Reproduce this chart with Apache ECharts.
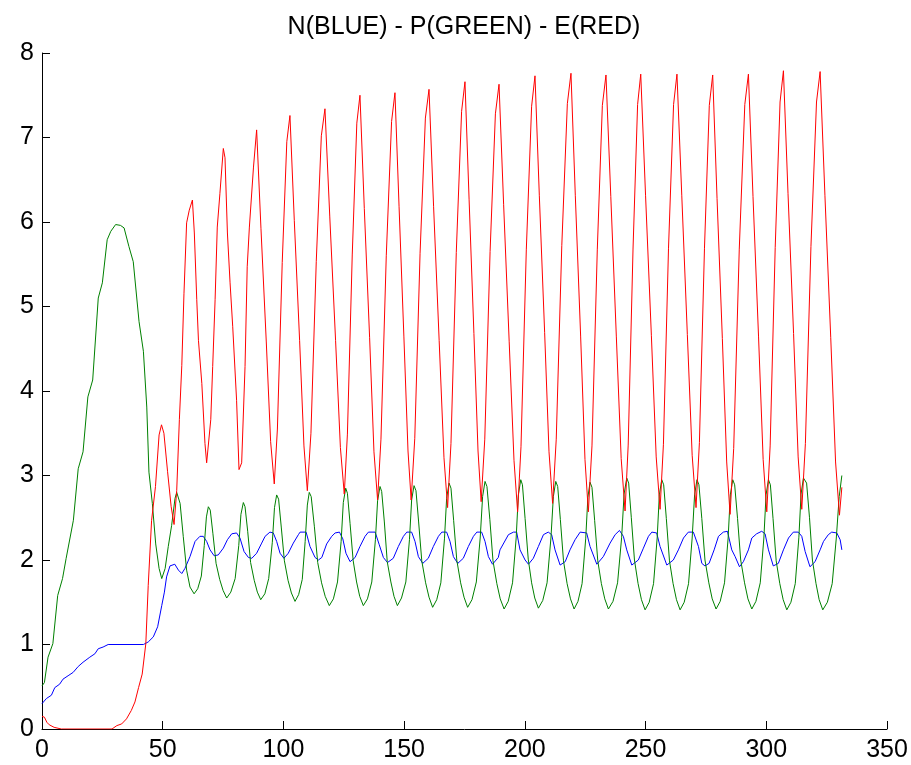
<!DOCTYPE html>
<html>
<head>
<meta charset="utf-8">
<script src="https://cdn.jsdelivr.net/npm/echarts@6/dist/echarts.min.js"></script>
<style>html,body{margin:0;padding:0;background:#fff;}#c{width:911px;height:765px;}</style>
</head>
<body>
<div id="c"></div>
<script>
const chartTitle = 'N(BLUE) - P(GREEN) - E(RED)';
const xMin = 0, xMax = 350, xStep = 50;
const yMin = 0, yMax = 8, yStep = 1;

const nBlue = [[0,0.30],[1.8,0.36],[3.9,0.40],[5.3,0.49],[7.3,0.53],[8.7,0.59],[10.8,0.63],[12.9,0.67],[15,0.74],[17,0.79],[19.8,0.85],[21.9,0.89],[23.3,0.95],[25.3,0.97],[27.4,1.0],[42,1.0],[44,1.03],[46.1,1.09],[47.9,1.21],[49.6,1.46],[50.7,1.62],[51.6,1.80],[53,1.93],[55,1.95],[56.5,1.88],[57.9,1.84],[59.2,1.90],[61.3,2.04],[63.4,2.22],[65.4,2.28],[66.8,2.28],[68.2,2.22],[69.6,2.12],[71.3,2.05],[73,2.06],[75.1,2.14],[76.8,2.24],[78.6,2.31],[80.6,2.32],[82,2.26],[83.7,2.10],[85.5,2.03],[86.9,2.02],[88.9,2.08],[91,2.20],[92.4,2.28],[94.4,2.33],[95.8,2.32],[97.2,2.22],[98.6,2.08],[100.2,2.02],[102,2.08],[104.1,2.20],[106.2,2.30],
[106.9,2.33],[109.4,2.33],[111,2.16],[113.1,2.03],[114.5,2.0],[115.9,2.03],[117.9,2.19],[120,2.28],[121.4,2.32],[123.2,2.33],[124.6,2.25],[125.9,2.08],[127.6,1.98],[129.7,2.03],[131.7,2.16],[133.8,2.28],[135.2,2.33],[138,2.33],[139.7,2.18],[141.4,2.03],[143.1,1.97],[145.5,2.02],[147.6,2.16],[149.7,2.28],[151.1,2.33],[153.1,2.33],[154.5,2.22],[155.9,2.04],[157.7,1.96],[160,2.02],[162.1,2.16],[164.2,2.28],[165.6,2.33],[167.6,2.33],[169,2.22],[170.4,2.04],[172.2,1.96],[174.5,2.02],[176.6,2.16],[178.7,2.28],[180.1,2.33],[182.1,2.33],[183.5,2.22],[184.9,2.04],[186.6,1.95],[189,2.03],
[189.7,2.12],[193.2,2.30],[195.3,2.33],[196.6,2.33],[198,2.12],[200.1,2.0],[201.5,1.95],[203.5,2.02],[205.6,2.16],[207.7,2.30],[209.7,2.33],[211.1,2.30],[212.5,2.12],[214.6,1.94],[216.7,1.98],[218.7,2.12],[220.8,2.24],[222.9,2.33],[225.6,2.32],[227,2.16],[229.8,1.95],[232.5,2.04],[235.3,2.20],[237.4,2.30],[239.2,2.35],[240.8,2.28],[242.2,2.12],[244.3,1.94],[247,2.0],[249.1,2.14],[251.2,2.28],[252.6,2.33],[254.6,2.32],[256,2.16],[258.8,1.94],[261.5,2.0],[263.6,2.12],[265.7,2.26],[267.7,2.33],
[269.8,2.33],[270.5,2.32],[271.9,2.16],[273.3,1.96],[274.6,1.93],[276.3,1.96],[278.4,2.12],[280.2,2.28],[282.2,2.33],[283.9,2.34],[285.7,2.12],[287.1,2.04],[288.9,1.92],[290.5,1.98],[292.6,2.12],[294,2.26],[296,2.31],[298.1,2.34],[299.5,2.31],[300.9,2.12],[302.9,1.93],[305,1.96],[307.1,2.12],[309.2,2.26],[311.2,2.33],[313.3,2.33],[314.7,2.28],[316.1,2.10],[318.1,1.92],[320.2,1.98],[322.3,2.12],[323.7,2.22],[325.7,2.30],[327.1,2.33],[329.2,2.32],[330.6,2.24],[331.3,2.12]];

const pGreen = [[0,0.51],[1,0.55],[2.5,0.85],[4.5,1.01],[6.5,1.58],[8.5,1.78],[10,2.02],[13,2.47],[15,3.08],[17,3.28],[19,3.93],[21,4.13],[23.3,5.10],[25,5.28],[27,5.79],[28.5,5.89],[30.5,5.97],[32.5,5.96],[34,5.93],[36,5.71],[37.8,5.53],[40.2,4.82],[42,4.47],[43.4,3.81],[44.3,3.04],[45.7,2.67],[47.1,2.19],[48.5,1.90],[49.6,1.78],
[51,1.90],[52.3,2.16],[53.7,2.41],[55.1,2.73],[55.8,2.80],
[57.2,2.67],[58.5,2.28],[59.9,1.88],[61.3,1.68],[63,1.60],
[64.5,1.66],[66,1.81],[67.2,2.17],[68.1,2.51],[68.9,2.63],
[69.7,2.59],[70.8,2.31],[72.1,1.96],[73.6,1.77],[75,1.64],[76.5,1.55],
[78.2,1.62],[80,1.78],[81.5,2.17],[82.4,2.54],[83.4,2.68],
[84.1,2.63],[85.2,2.34],[86.4,1.97],[87.9,1.76],[89.2,1.62],[90.6,1.53],
[92.3,1.60],[93.9,1.78],[95.4,2.21],[96.3,2.62],[97.2,2.77],
[98,2.72],[99.1,2.39],[100.4,1.99],[101.9,1.76],[103.3,1.61],[104.8,1.51],
[106.3,1.59],[107.8,1.77],[109,2.22],[109.9,2.65],[110.7,2.80],
[111.5,2.75],[112.8,2.40],[114.2,1.97],[115.8,1.73],[117.3,1.57],[119,1.46],
[120.7,1.54],[122.4,1.74],[123.9,2.22],[124.8,2.68],[125.8,2.85],
[126.5,2.79],[127.6,2.43],[128.9,1.99],[130.3,1.74],[131.6,1.57],[133.1,1.46],
[134.8,1.54],[136.6,1.74],[138.1,2.24],[139,2.70],[140,2.87],
[140.7,2.81],[141.8,2.45],[143,1.98],[144.5,1.74],[145.8,1.57],[147.2,1.46],
[148.9,1.55],[150.7,1.74],[152.2,2.24],[153.1,2.71],[154.1,2.88],
[154.9,2.82],[156,2.45],[157.3,1.99],[158.9,1.73],[160.3,1.56],[161.8,1.44],
[163.5,1.53],[165.2,1.73],[166.7,2.25],[167.6,2.73],[168.6,2.91],
[169.4,2.85],[170.5,2.47],[171.8,2.00],[173.4,1.73],[174.8,1.56],[176.3,1.44],
[178.1,1.53],[179.9,1.74],[181.5,2.26],[182.5,2.75],[183.5,2.93],
[184.3,2.87],[185.5,2.48],[186.8,1.99],[188.4,1.72],[189.8,1.54],[191.4,1.42],
[193.1,1.51],[194.9,1.73],[196.4,2.26],[197.3,2.77],[198.3,2.95],
[199,2.89],[200.1,2.49],[201.4,2.01],[202.8,1.73],[204.1,1.55],[205.6,1.43],
[207.4,1.52],[209.2,1.73],[210.8,2.26],[211.8,2.75],[212.8,2.93],
[213.6,2.87],[214.7,2.48],[216,1.99],[217.5,1.72],[218.9,1.54],[220.4,1.42],
[222,1.51],[223.7,1.72],[225.2,2.25],[226.1,2.74],[227,2.92],
[227.8,2.86],[228.9,2.47],[230.2,1.99],[231.7,1.72],[233.1,1.54],[234.6,1.42],
[236.5,1.51],[238.4,1.73],[240.1,2.27],[241.1,2.78],[242.2,2.97],
[243,2.91],[244.1,2.50],[245.4,2.00],[246.9,1.72],[248.3,1.53],[249.8,1.41],
[251.5,1.50],[253.3,1.72],[254.8,2.26],[255.7,2.77],[256.7,2.95],
[257.5,2.89],[258.6,2.49],[259.9,1.99],[261.4,1.72],[262.8,1.53],[264.3,1.41],
[266,1.50],[267.8,1.72],[269.3,2.26],[270.3,2.77],[271.3,2.95],
[272.1,2.89],[273.3,2.49],[274.6,2.00],[276.2,1.73],[277.6,1.54],[279.2,1.42],
[280.9,1.51],[282.7,1.73],[284.2,2.26],[285.1,2.77],[286.1,2.95],
[286.9,2.89],[288.1,2.49],[289.4,2.00],[291,1.73],[292.4,1.54],[294,1.42],
[295.7,1.51],[297.5,1.73],[299,2.26],[299.9,2.77],[300.9,2.95],
[301.7,2.89],[302.8,2.49],[304.1,1.99],[305.6,1.72],[307,1.53],[308.5,1.41],
[310.2,1.50],[312,1.72],[313.5,2.27],[314.4,2.78],[315.4,2.97],[316,2.97],
[316.7,2.91],[317.9,2.50],[319.1,2.00],[320.6,1.72],[321.9,1.53],[323.4,1.41],
[325.3,1.50],[327.3,1.72],[329,2.26],[330.2,2.75],[331.3,3.0]];

const eRed = [[0,0.15],[1,0.14],[2,0.08],[3,0.05],[5,0.02],[8,0],[29,0],[31,0.04],[33,0.06],[35,0.12],[37,0.22],[38.5,0.32],[40,0.49],[41.5,0.65],[43,1.01],[44,1.7],[45.4,2.47],[47,2.87],[48.5,3.48],[49.5,3.60],[50.5,3.50],[52,3.05],[53.5,2.63],[54.7,2.42],[55.3,2.40],
[55.8,2.82],[56.9,3.66],[57.9,4.30],[58.8,5.15],[59.9,5.99],[61,6.14],[62.3,6.26],
[63.1,5.87],[64.1,5.08],[64.8,4.60],[66.2,4.09],[67.5,3.38],[68.2,3.15],[68.9,3.15],[69.9,3.66],[70.7,4.29],[71.7,5.08],[72.6,5.94],[73.7,6.34],[75.1,6.87],[75.8,6.76],[76.8,5.87],[77.9,5.28],[79,4.76],[80.6,3.89],[81.6,3.07],[82.7,3.15],[84.1,4.29],[85,5.47],[85.9,5.94],[87.6,6.65],[88.9,7.09],
[90.7,5.92],[92.9,4.58],[94.7,3.40],[96.2,2.90],
[97.5,3.55],[99.5,5.52],[101.4,6.95],[102.7,7.26],
[104.5,6.02],[106.7,4.60],[108.5,3.35],[109.9,2.82],
[111.4,3.50],[113.6,5.53],[115.7,7.02],[117.2,7.34],
[119.2,6.06],[121.6,4.60],[123.6,3.33],[125.2,2.78],
[126.5,3.49],[128.5,5.61],[130.4,7.17],[131.7,7.50],
[133.5,6.16],[135.7,4.63],[137.5,3.28],[139,2.71],
[140.4,3.43],[142.6,5.60],[144.8,7.19],[146.2,7.53],
[147.9,6.18],[149.9,4.64],[151.6,3.29],[152.9,2.71],
[154.4,3.44],[156.6,5.63],[158.8,7.23],[160.3,7.57],
[162.2,6.18],[164.5,4.60],[166.5,3.21],[168,2.62],
[169.4,3.38],[171.6,5.64],[173.8,7.31],[175.2,7.66],
[176.9,6.27],[178.9,4.68],[180.6,3.29],[181.9,2.69],
[183.4,3.43],[185.6,5.65],[187.8,7.28],[189.3,7.63],
[191.2,6.21],[193.5,4.59],[195.5,3.18],[197,2.57],
[198.4,3.34],[200.6,5.67],[202.8,7.37],[204.2,7.73],
[206,6.31],[208.2,4.69],[210,3.28],[211.5,2.67],
[213,3.43],[215.3,5.72],[217.6,7.40],[219.1,7.76],
[220.9,6.31],[223.1,4.65],[224.9,3.19],[226.3,2.57],
[227.8,3.35],[230,5.67],[232.1,7.38],[233.6,7.74],
[235.6,6.30],[237.9,4.64],[239.9,3.20],[241.5,2.58],
[242.8,3.36],[244.8,5.68],[246.7,7.39],[248,7.75],
[250,6.31],[252.4,4.66],[254.4,3.22],[256,2.60],
[257.4,3.37],[259.5,5.69],[261.6,7.39],[263,7.75],
[265,6.31],[267.3,4.67],[269.3,3.24],[270.9,2.62],
[272.3,3.39],[274.4,5.69],[276.4,7.38],[277.8,7.74],
[279.6,6.28],[281.8,4.62],[283.6,3.16],[285,2.54],
[286.5,3.32],[288.8,5.67],[291.1,7.39],[292.6,7.75],
[294.5,6.30],[296.8,4.64],[298.7,3.19],[300.2,2.57],
[301.6,3.35],[303.7,5.70],[305.7,7.42],[307.1,7.79],
[309,6.34],[311.3,4.68],[313.2,3.22],[314.7,2.60],
[316.2,3.38],[318.5,5.71],[320.8,7.42],[322.3,7.78],
[324.3,6.31],[326.7,4.63],[328.7,3.16],[330.3,2.53],[331.3,2.86]];

const font = 'Liberation Sans, Arial, sans-serif';
const chart = echarts.init(document.getElementById('c'), null, {renderer: 'canvas'});
const axisCommon = {
  axisLine: {show: true, lineStyle: {color: '#000', width: 1}},
  axisTick: {show: true, inside: true, length: 8, lineStyle: {color: '#000', width: 1}},
  splitLine: {show: false},
  axisLabel: {color: '#000', fontSize: 25, fontFamily: font}
};
function mkLine(name, data, color) {
  return {name: name, type: 'line', data: data, showSymbol: false, symbol: 'none',
    lineStyle: {color: color, width: 1}, itemStyle: {color: color}, animation: false, silent: true};
}
chart.setOption({
  backgroundColor: '#fff',
  animation: false,
  title: {text: chartTitle, left: 459, top: 10, textAlign: 'center',
    textStyle: {color: '#000', fontSize: 25, fontWeight: 'normal', fontFamily: font}},
  grid: {left: 42, right: 24, top: 53, bottom: 36, containLabel: false},
  xAxis: Object.assign({type: 'value', min: xMin, max: xMax, interval: xStep}, axisCommon,
    {axisLabel: Object.assign({}, axisCommon.axisLabel, {margin: 9})}),
  yAxis: Object.assign({type: 'value', min: yMin, max: yMax, interval: yStep}, axisCommon,
    {axisLabel: Object.assign({}, axisCommon.axisLabel, {margin: 8})}),
  series: [mkLine('N', nBlue, '#0000ff'), mkLine('P', pGreen, '#008000'), mkLine('E', eRed, '#ff0000')]
});
</script>
</body>
</html>
